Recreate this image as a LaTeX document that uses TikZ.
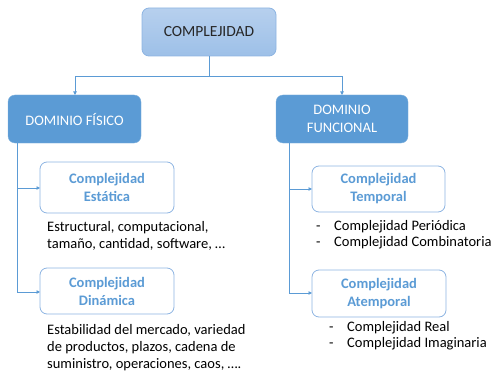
\documentclass[tikz,border=0pt]{standalone}
\usepackage{fontspec}
\setmainfont{Carlito}
\usetikzlibrary{arrows.meta}
\definecolor{mblue}{HTML}{5B9BD5}
\definecolor{lblue}{HTML}{8DB4E2}
\definecolor{topA}{HTML}{B7D0EE}
\definecolor{topB}{HTML}{9DC0E8}
\definecolor{txt}{HTML}{262626}
\tikzset{
  conn/.style={draw=mblue, line width=0.9pt},
  arr/.style={conn, -{Triangle[length=3.5pt,width=3.5pt]}},
  topbox/.style={rounded corners=7pt, draw=lblue, line width=0.8pt, top color=topA, bottom color=topB},
  dombox/.style={rounded corners=7pt, draw=mblue!80!white, fill=mblue},
  subbox/.style={rounded corners=7pt, draw=lblue, line width=0.8pt, fill=white},
  toplbl/.style={text=txt, font=\fontsize{15.5}{18}\selectfont},
  domlbl/.style={text=white, align=center, font=\fontsize{14.5}{18}\selectfont},
  sublbl/.style={text=mblue, align=center, font=\bfseries\fontsize{14.5}{18}\selectfont},
  desc/.style={anchor=base west, align=left, text=black, font=\fontsize{14.5}{17}\selectfont, inner sep=0pt},
  lst/.style={anchor=base west, align=left, text=black, font=\fontsize{14.5}{15.5}\selectfont, inner sep=0pt}
}
\newcommand{\dashitem}[1]{\makebox[18pt][l]{-}#1}
\begin{document}
\begin{tikzpicture}[x=1pt,y=-1pt]
\useasboundingbox (0,0) rectangle (494,374);
% boxes (pixel coords, y downwards)
\path[topbox] (142,8) rectangle (276,56);
\node[toplbl] (top) at (209,32) {COMPLEJIDAD};
\coordinate (topS) at (209,56);

\path[dombox] (8,95) rectangle (141,143);
\node[domlbl] (fis) at (74.5,119) {DOMINIO FÍSICO};
\path[dombox] (276,95) rectangle (408,143);
\node[domlbl] (fun) at (342,119) {DOMINIO\\FUNCIONAL};

\path[subbox] (40,162) rectangle (174,213);
\node[sublbl] (est) at (107,187.5) {Complejidad\\Estática};
\path[subbox] (40,268) rectangle (174,314);
\node[sublbl] (din) at (107,291) {Complejidad\\Dinámica};
\path[subbox] (312,166) rectangle (445,212);
\node[sublbl] (tem) at (378.5,189) {Complejidad\\Temporal};
\path[subbox] (312,270) rectangle (446,317);
\node[sublbl] (ate) at (379,293.5) {Complejidad\\Atemporal};

% connectors
\coordinate (h1) at (75,76);
\coordinate (h2) at (342,76);
\coordinate (hm) at (209,76);
\coordinate (fisN) at (75,95);
\coordinate (funN) at (342,95);
\draw[conn] (topS) -- (hm);
\draw[arr] (hm) -- (h1) -- (fisN);
\draw[arr] (hm) -- (h2) -- (funN);
\coordinate (lv) at (17,143);
\coordinate (lv1) at (17,188);
\coordinate (lv2) at (17,292);
\coordinate (estW) at (40,188);
\coordinate (dinW) at (40,292);
\draw[conn] (lv) -- (lv2);
\draw[arr] (lv1) -- (estW);
\draw[arr] (lv2) -- (dinW);
\coordinate (rv) at (289,143);
\coordinate (rv1) at (289,189);
\coordinate (rv2) at (289,293);
\coordinate (temW) at (312,189);
\coordinate (ateW) at (312,293);
\draw[conn] (rv) -- (rv2);
\draw[arr] (rv1) -- (temW);
\draw[arr] (rv2) -- (ateW);

% descriptions (anchor = baseline of the last line)
\node[desc] (d1) at (47,248) {Estructural, computacional,\\tamaño, cantidad, software, …};
\node[desc] (d2) at (47,368.5) {Estabilidad del mercado, variedad\\de productos, plazos, cadena de\\suministro, operaciones, caos, ….};
\node[lst] (d3) at (316,246) {\dashitem{Complejidad Periódica}\\\dashitem{Complejidad Combinatoria}};
\node[lst] (d4) at (329,347) {\dashitem{Complejidad Real}\\\dashitem{Complejidad Imaginaria}};
\end{tikzpicture}
\end{document}
